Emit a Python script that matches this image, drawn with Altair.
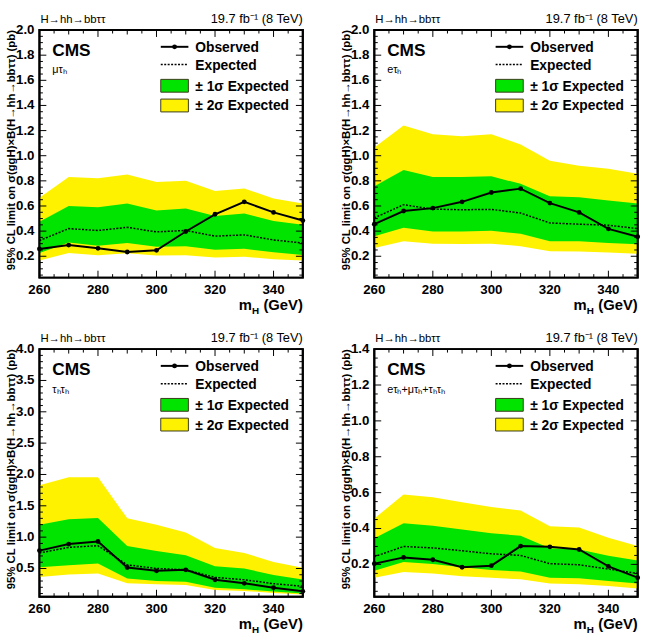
import altair as alt
import pandas as pd

# Mass points (GeV)
MASS = [260, 270, 280, 290, 300, 310, 320, 330, 340, 350]

# mu tau_h channel
OBS_MT = [0.258, 0.289, 0.263, 0.234, 0.247, 0.397, 0.534, 0.633, 0.549, 0.484]
EXP_MT = [0.325, 0.420, 0.405, 0.430, 0.394, 0.405, 0.360, 0.370, 0.330, 0.305]
S1DN_MT = [0.226, 0.310, 0.284, 0.305, 0.276, 0.279, 0.252, 0.260, 0.231, 0.210]
S1UP_MT = [0.475, 0.600, 0.590, 0.620, 0.565, 0.580, 0.520, 0.540, 0.480, 0.450]
S2DN_MT = [0.166, 0.226, 0.208, 0.223, 0.205, 0.208, 0.190, 0.197, 0.176, 0.166]
S2UP_MT = [0.665, 0.830, 0.820, 0.850, 0.790, 0.800, 0.720, 0.740, 0.660, 0.620]

# e tau_h channel
OBS_ET = [0.455, 0.560, 0.583, 0.633, 0.707, 0.738, 0.623, 0.549, 0.418, 0.355]
EXP_ET = [0.505, 0.610, 0.575, 0.570, 0.573, 0.544, 0.465, 0.455, 0.447, 0.420]
S1DN_ET = [0.360, 0.426, 0.397, 0.397, 0.402, 0.380, 0.320, 0.320, 0.305, 0.295]
S1UP_ET = [0.757, 0.886, 0.830, 0.830, 0.836, 0.776, 0.678, 0.670, 0.644, 0.620]
S2DN_ET = [0.265, 0.320, 0.300, 0.297, 0.300, 0.280, 0.240, 0.237, 0.230, 0.220]
S2UP_ET = [1.065, 1.240, 1.170, 1.154, 1.170, 1.090, 0.960, 0.920, 0.896, 0.857]

# tau_h tau_h channel
OBS_TT = [0.785, 0.890, 0.930, 0.516, 0.463, 0.479, 0.320, 0.263, 0.194, 0.136]
EXP_TT = [0.748, 0.837, 0.864, 0.558, 0.500, 0.479, 0.358, 0.320, 0.258, 0.216]
S1DN_TT = [0.520, 0.553, 0.579, 0.342, 0.300, 0.289, 0.194, 0.168, 0.131, 0.100]
S1UP_TT = [1.196, 1.285, 1.306, 0.858, 0.780, 0.710, 0.537, 0.500, 0.395, 0.326]
S2DN_TT = [0.363, 0.405, 0.420, 0.263, 0.247, 0.236, 0.157, 0.142, 0.110, 0.084]
S2UP_TT = [1.830, 1.955, 1.955, 1.300, 1.196, 1.075, 0.827, 0.748, 0.605, 0.510]

# combination
OBS_CB = [0.204, 0.239, 0.226, 0.184, 0.193, 0.302, 0.298, 0.283, 0.189, 0.126]
EXP_CB = [0.243, 0.300, 0.292, 0.276, 0.259, 0.250, 0.204, 0.198, 0.174, 0.150]
S1DN_CB = [0.165, 0.213, 0.202, 0.184, 0.169, 0.160, 0.126, 0.123, 0.108, 0.093]
S1UP_CB = [0.346, 0.429, 0.416, 0.394, 0.373, 0.360, 0.290, 0.283, 0.248, 0.222]
S2DN_CB = [0.125, 0.158, 0.149, 0.134, 0.125, 0.117, 0.093, 0.090, 0.079, 0.066]
S2UP_CB = [0.456, 0.589, 0.574, 0.547, 0.520, 0.500, 0.412, 0.405, 0.348, 0.302]

# Axis tick positions
X_MAJOR = [260, 280, 300, 320, 340]
X_MID = [270, 290, 310, 330, 350]
X_MINOR = [265, 275, 285, 295, 305, 315, 325, 335, 345]

Y_LABELS_2 = [0.2, 0.4, 0.6, 0.8, 1.0, 1.2, 1.4, 1.6, 1.8, 2.0]
Y_MINOR_2 = [round(0.05 * i, 2) for i in range(1, 40) if i % 4]
Y_LABELS_4 = [0.5, 1.0, 1.5, 2.0, 2.5, 3.0, 3.5, 4.0]
Y_MINOR_4 = [round(0.1 * i, 1) for i in range(1, 40) if i % 5]
Y_LABELS_14 = [0.2, 0.4, 0.6, 0.8, 1.0, 1.2, 1.4]
Y_MINOR_14 = [round(0.05 * i, 2) for i in range(1, 28) if i % 4]

YTITLE = "95% CL limit on σ(ggH)×B(H→hh→bbττ) (pb)"

W, H = 267, 251
X0, X1 = 260, 350
FONT = "Liberation Sans"
GREEN = "#00e400"
YELLOW = "#fff200"
ONE = pd.DataFrame({"k": [0]})


def text(label, x, y, size, bold=False, align="left"):
    return alt.Chart(ONE).mark_text(
        text=label, font=FONT, fontSize=size, fontWeight="bold" if bold else "normal",
        align=align, baseline="alphabetic", color="black",
    ).encode(x=alt.value(x), y=alt.value(y))


def vtext(label, x, y, size):
    return alt.Chart(ONE).mark_text(
        text=label, font=FONT, fontSize=size, fontWeight="bold",
        align="right", baseline="alphabetic", color="black", angle=270,
    ).encode(x=alt.value(x), y=alt.value(y))


def seg(x, x2, y, y2, width):
    return alt.Chart(ONE).mark_rule(color="black", strokeWidth=width).encode(
        x=alt.value(x), x2=alt.value(x2), y=alt.value(y), y2=alt.value(y2))


def box(x, x2, y, y2, fill, stroke):
    return alt.Chart(ONE).mark_rect(
        fill=fill, stroke=stroke, strokeWidth=1, opacity=1,
    ).encode(x=alt.value(x), x2=alt.value(x2), y=alt.value(y), y2=alt.value(y2))


def tick_table(ydom, ylabels, yminor):
    """Short two-point segments in data units: inward ticks on all four sides."""
    y0, y1 = ydom
    per_px_y = (y1 - y0) / H
    per_px_x = (X1 - X0) / W
    rows = []
    sid = 0
    for vals, ln in [(X_MAJOR, 7), (X_MID, 4.5), (X_MINOR, 3.5)]:
        for t in vals:
            for base, sign in [(y0, 1), (y1, -1)]:
                rows += [(sid, 0, t, base), (sid, 1, t, base + sign * ln * per_px_y)]
                sid += 1
    minor = [v for v in yminor if v > y0]
    for vals, ln in [(ylabels, 7), (minor, 3.5)]:
        for v in vals:
            for base, sign in [(X0, 1), (X1, -1)]:
                rows += [(sid, 0, base, v), (sid, 1, base + sign * ln * per_px_x, v)]
                sid += 1
    return pd.DataFrame(rows, columns=["sid", "o", "tx", "ty"])


def panel(obs, exp, s1dn, s1up, s2dn, s2up, ydom, ylabels, yminor, channel):
    df = pd.DataFrame({"m": MASS, "obs": obs, "exp": exp,
                       "s1dn": s1dn, "s1up": s1up, "s2dn": s2dn, "s2up": s2up})
    xsc = alt.Scale(domain=[X0, X1], nice=False, zero=False)
    ysc = alt.Scale(domain=ydom, nice=False, zero=False)

    def X(f):
        return alt.X(f"{f}:Q", scale=xsc, axis=None)

    def Y(f):
        return alt.Y(f"{f}:Q", scale=ysc, axis=None)

    base = alt.Chart(df)
    band2 = base.mark_area(color=YELLOW, opacity=1).encode(
        x=X("m"), y=Y("s2dn"), y2="s2up")
    band1 = base.mark_area(color=GREEN, opacity=1).encode(
        x=X("m"), y=Y("s1dn"), y2="s1up")
    expected = base.mark_line(color="black", strokeWidth=1.5, strokeDash=[2, 1.5]).encode(
        x=X("m"), y=Y("exp"))
    observed = base.mark_line(
        color="black", strokeWidth=2,
        point=alt.OverlayMarkDef(filled=True, size=24, color="black", opacity=1),
    ).encode(x=X("m"), y=Y("obs"))

    layers = [band2, band1, expected, observed]

    # tick labels placed through the scales
    layers.append(alt.Chart(pd.DataFrame({"v": X_MAJOR})).mark_text(
        font=FONT, fontSize=13.5, fontWeight="bold", align="center",
        baseline="alphabetic", color="black",
    ).encode(x=X("v"), y=alt.value(H + 16.5), text=alt.Text("v:Q", format="d")))
    layers.append(alt.Chart(pd.DataFrame({"v": ylabels})).mark_text(
        font=FONT, fontSize=13.5, fontWeight="bold", align="right",
        baseline="middle", color="black",
    ).encode(y=Y("v"), x=alt.value(-5), text=alt.Text("v:Q", format=".1f")))

    # legend
    layers += [
        seg(123, 151, 17, 17, 2),
        alt.Chart(ONE).mark_point(filled=True, size=24, color="black", opacity=1).encode(
            x=alt.value(137), y=alt.value(17)),
        alt.Chart(ONE).mark_rule(color="black", strokeWidth=1.5, strokeDash=[2, 1.5]).encode(
            x=alt.value(123), x2=alt.value(151), y=alt.value(35)),
        box(123, 151, 50, 63, GREEN, "#3a3a1a"),
        box(123, 151, 70, 83, YELLOW, "#3a3a1a"),
        text("Observed", 158, 22, 14, bold=True),
        text("Expected", 158, 40, 14, bold=True),
        text("± 1σ Expected", 158, 61.5, 14, bold=True),
        text("± 2σ Expected", 158, 81.5, 14, bold=True),
    ]

    # titles and labels
    layers += [
        vtext(YTITLE, -25, 0, 11.5),
        text("CMS", 13, 26.5, 17.5, bold=True),
        text(channel, 13, 44, 11),
        text("H→hh→bbττ", 1, -7, 11.5),
        text("19.7 fb⁻¹ (8 TeV)", W, -7, 13, align="right"),
        text("m", 202, H + 33, 15, bold=True),
        text("H", 215.5, H + 37, 10, bold=True),
        text("(GeV)", W, H + 33, 15, bold=True, align="right"),
    ]

    # inward ticks, drawn as short line segments through the scales
    layers.append(alt.Chart(tick_table(ydom, ylabels, yminor)).mark_line(
        color="black", strokeWidth=1,
    ).encode(x=X("tx"), y=Y("ty"), detail="sid:N", order="o:Q"))

    # frame around the plot area through the domain corners
    frame = pd.DataFrame({
        "fx": [X0, X1, X1, X0, X0],
        "fy": [ydom[0], ydom[0], ydom[1], ydom[1], ydom[0]],
        "o": [0, 1, 2, 3, 4],
    })
    layers.append(alt.Chart(frame).mark_line(
        color="black", strokeWidth=2, strokeJoin="miter", strokeCap="square",
    ).encode(x=X("fx"), y=Y("fy"), order="o:Q"))

    return alt.layer(*layers).properties(width=W, height=H)


p1 = panel(OBS_MT, EXP_MT, S1DN_MT, S1UP_MT, S2DN_MT, S2UP_MT,
           [0.03, 2.0], Y_LABELS_2, Y_MINOR_2, "μτₕ")
p2 = panel(OBS_ET, EXP_ET, S1DN_ET, S1UP_ET, S2DN_ET, S2UP_ET,
           [0.03, 2.0], Y_LABELS_2, Y_MINOR_2, "eτₕ")
p3 = panel(OBS_TT, EXP_TT, S1DN_TT, S1UP_TT, S2DN_TT, S2UP_TT,
           [0.05, 4.0], Y_LABELS_4, Y_MINOR_4, "τₕτₕ")
p4 = panel(OBS_CB, EXP_CB, S1DN_CB, S1UP_CB, S2DN_CB, S2UP_CB,
           [0.02, 1.4], Y_LABELS_14, Y_MINOR_14, "eτₕ+μτₕ+τₕτₕ")

# full bounds: spacing is measured between the panels' outer extents
chart = alt.concat(
    p1, p2, p3, p4, columns=2, spacing={"row": 14.5, "column": 32.5}
).properties(
    padding={"left": 5, "top": 8, "right": 6, "bottom": 3}, background="white"
).configure_view(stroke="black", strokeWidth=2)

chart.save("out.html", embed_options={"renderer": "svg", "actions": False})
